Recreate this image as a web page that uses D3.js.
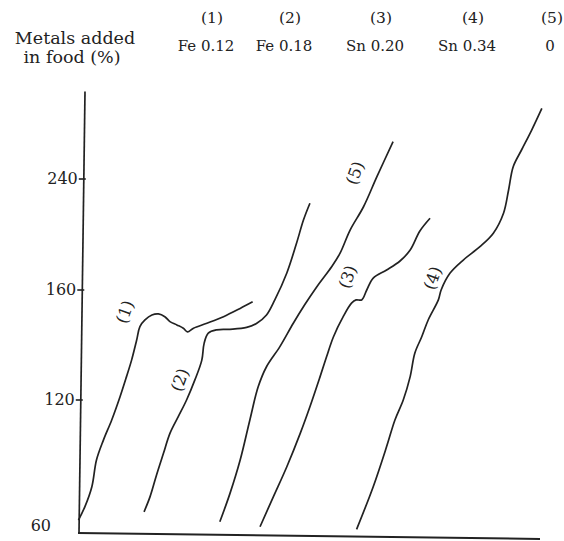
<!DOCTYPE html>
<html>
<head>
<meta charset="utf-8">
<script src="https://cdn.jsdelivr.net/npm/d3@7"></script>
<style>
  body { margin: 0; background: #fff; }
  svg text { font-family: "DejaVu Serif", "Liberation Serif", serif; fill: #222; }
</style>
</head>
<body>
<div class="box"></div>
<script>
// values (x has no units on the original, 0-100 across the axis)
const yTicks = [60, 120, 160, 240];

const curve1 = [[0.1,64.6],[1.5,70.8],[3.0,80.0],[4.0,92.3],[5.5,101.5],[7.3,110.8],[9.1,121.2],
  [10.5,128.5],[11.6,134.5],[12.7,141.8],[13.4,146.7],[14.5,149.1],[16.0,150.9],[17.4,151.3],
  [18.8,150.3],[19.9,148.5],[21.4,147.3],[22.8,146.1],[23.7,144.8],[25.0,146.1],[27.9,147.9],
  [31.5,150.3],[35.1,153.3],[37.8,155.7]];
const curve2 = [[14.3,68.4],[15.6,75.4],[17.0,85.4],[18.5,95.4],[19.9,104.6],[21.7,112.3],
  [23.5,120.0],[25.3,127.3],[26.8,134.5],[27.3,140.6],[28.2,144.3],[30.0,145.5],[32.9,145.7],
  [36.5,146.4],[38.7,147.9],[40.8,150.9],[42.6,156.4],[45.2,172.3],[47.3,193.7],[48.8,210.4],
  [50.2,222.5]];
const curve3 = [[39.4,61.5],[42.3,75.4],[45.2,89.2],[48.1,104.6],[50.2,116.9],[52.4,128.5],
  [53.8,135.7],[55.3,143.0],[57.4,150.3],[59.2,155.2],[60.2,156.4],[61.4,156.4],[62.5,160.0],
  [63.9,168.6],[66.8,174.4],[69.7,180.9],[71.9,188.8],[74.0,202.5],[76.2,211.7]];
const curve4 = [[60.3,60.3],[63.9,80.0],[66.8,98.5],[68.6,110.8],[70.4,120.0],[71.9,128.5],
  [72.9,137.0],[74.4,143.0],[75.8,149.1],[78.0,156.4],[78.6,160.0],[80.5,172.0],[83.4,181.6],
  [87.0,191.2],[89.9,200.9],[92.1,215.3],[93.2,232.1],[94.2,248.9],[96.0,260.9],[98.2,275.3],
  [100.4,290.9]];
const curve5 = [[30.7,63.8],[32.9,76.9],[35.1,92.3],[37.2,110.8],[39.0,124.8],[40.8,132.1],
  [43.7,139.4],[46.6,147.9],[49.1,154.7],[51.7,162.4],[54.9,176.8],[56.7,186.4],[58.9,203.2],
  [61.8,220.0],[64.7,241.7],[68.2,266.9]];

const curves = [curve1, curve2, curve3, curve4, curve5];
const curveNames = ["(1)", "(2)", "(3)", "(4)", "(5)"];
const curveLabelAt = [[10.2,152.0],[22.1,127.3],[58.4,169.4],[76.8,168.6],[60.0,244.3]];

const metals = ["Fe 0.12", "Fe 0.18", "Sn 0.20", "Sn 0.34", "0"];

const width = 564, height = 541;

const svg = d3.select('.box').append('svg')
    .attr('width', width)
    .attr('height', height);

const x = d3.scaleLinear().domain([0, 100]).range([78, 540]);
// the printed axis is not evenly spaced, so the scale is piecewise
const y = d3.scaleLinear().domain(yTicks).range([530, 400, 290, 179]);

// the scanned y axis leans a little to the right towards the top
const lean = v => x(0) + 1 + (y(60) - y(v)) / (y(60) - y(303)) * 6;

// header
const head = svg.append('g').attr('font-size', 17.5);
head.append('text').attr('x', 75).attr('y', 44).attr('text-anchor', 'middle').text('Metals added');
head.append('text').attr('x', 72).attr('y', 63).attr('text-anchor', 'middle').text('in food (%)');

const colX = d3.scalePoint().domain(curveNames).range([206, 550]);
const colNudge = [0, -8, -3, 3, 0];
const numNudge = [6, 6, 6, 6, 2];

svg.append('g').selectAll('text.num')
  .data(curveNames)
  .join('text')
    .attr('font-size', 15.5)
    .attr('text-anchor', 'middle')
    .attr('x', (d, i) => colX(d) + numNudge[i] + colNudge[i])
    .attr('y', 23)
    .text(d => d);

svg.append('g').selectAll('text.metal')
  .data(metals)
  .join('text')
    .attr('font-size', 15)
    .attr('text-anchor', 'middle')
    .attr('x', (d, i) => colX(curveNames[i]) + colNudge[i])
    .attr('y', 51)
    .text(d => d);

// axes
const yAxis = svg.append('g')
    .call(d3.axisLeft(y).tickValues(yTicks).tickSize(4).tickSizeOuter(0).tickPadding(2));
yAxis.select('.domain').remove();
yAxis.selectAll('.tick').attr('transform', d => `translate(${lean(d)},${y(d)})`);
yAxis.selectAll('.tick line').attr('x2', -5).attr('x1', 2).attr('stroke', '#222').attr('stroke-width', 1.6)
    .filter(d => d === 60).remove();
yAxis.selectAll('.tick text').attr('font-size', 16).attr('font-family', '"DejaVu Serif", serif').attr('fill', '#222');
yAxis.selectAll('.tick').filter(d => d === 60).select('text').attr('dy', '0.05em').attr('x', -28);

svg.append('line')
    .attr('x1', lean(303)).attr('x2', lean(60))
    .attr('y1', y(303)).attr('y2', y(60) + 3)
    .attr('stroke', '#222').attr('stroke-width', 1.7);

svg.append('line')
    .attr('x1', x(0)).attr('x2', x(100))
    .attr('y1', y(60) + 3).attr('y2', y(60) + 9)
    .attr('stroke', '#222').attr('stroke-width', 2);

// curves
const line = d3.line()
    .x(d => x(d[0]))
    .y(d => y(d[1]))
    .curve(d3.curveCatmullRom);

svg.append('g').selectAll('path')
  .data(curves)
  .join('path')
    .attr('d', line)
    .attr('fill', 'none')
    .attr('stroke', '#222')
    .attr('stroke-width', 1.7);

svg.append('g').selectAll('text')
  .data(curveLabelAt)
  .join('text')
    .attr('font-size', 16.5)
    .attr('text-anchor', 'middle')
    .attr('dominant-baseline', 'central')
    .attr('transform', d => `translate(${x(d[0])},${y(d[1])}) rotate(-70)`)
    .text((d, i) => curveNames[i]);
</script>
</body>
</html>
